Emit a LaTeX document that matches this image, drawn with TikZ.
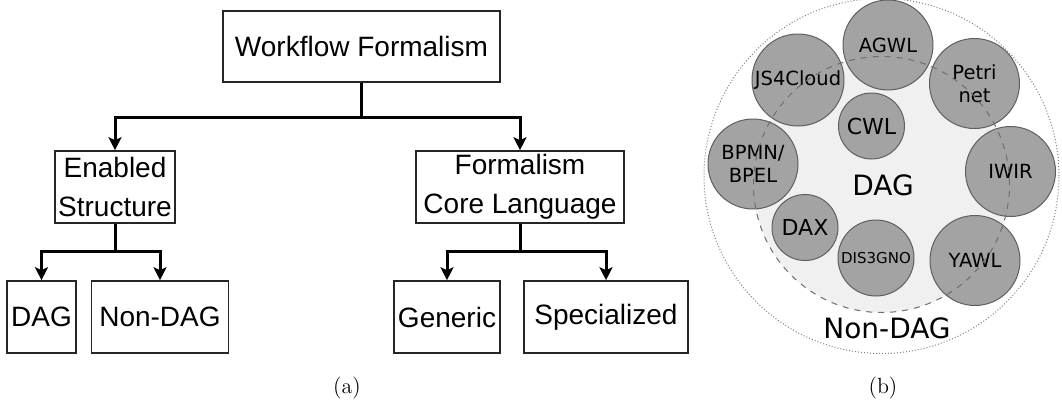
\documentclass[tikz,border=0pt]{standalone}
\usepackage{fontspec}
\usepackage{tikz}
\usetikzlibrary{arrows.meta}
\newfontfamily\boxfont{Liberation Sans}
\newfontfamily\dagfont{DejaVu Sans}
\definecolor{langfill}{HTML}{A3A3A3}
\definecolor{langline}{HTML}{5F5F5F}
\definecolor{dagfill}{HTML}{F0F0F0}
\definecolor{dagline}{HTML}{6E6E6E}

\begin{document}
\begin{tikzpicture}[x=0.5pt, y=-0.5pt,
        box/.style={draw=black!85, line width=0.8pt, inner sep=1pt, minimum height=36pt,
            align=center, font=\boxfont\fontsize{14pt}{19.5pt}\selectfont},
        link/.style={line width=1.5pt, -{Stealth[length=6.5pt, width=6.5pt, inset=1.5pt]}},
        lang/.style={circle, draw=langline, fill=langfill, line width=0.5pt, inner sep=0pt,
            minimum size=45pt, align=center, font=\dagfont\fontsize{9.75pt}{11.5pt}\selectfont},
        langsmall/.style={lang, minimum size=33pt, font=\dagfont\fontsize{11pt}{13pt}\selectfont},
        setlabel/.style={font=\dagfont\fontsize{14pt}{16pt}\selectfont},
        caption/.style={font=\fontsize{11pt}{13pt}\selectfont}]
                \useasboundingbox (0,0) rectangle (1062,402);

                \node[box, minimum width=138.5pt, minimum height=35.5pt] (wf) at (361.5,46.5) {Workflow Formalism};
                \node[box, minimum width=60pt] (es) at (115,187) {Enabled\\Structure};
                \node[box, minimum width=104pt] (fcl) at (520,187) {Formalism\\Core Language};
                \node[box, minimum width=34.5pt] (dag) at (41.5,317) {DAG};
                \node[box, minimum width=68.5pt] (ndag) at (160,317) {Non-DAG};
                \node[box, minimum width=53pt] (gen) at (447,317) {Generic};
                \node[box, minimum width=82pt] (spec) at (606,317) {Specialized};

                \draw [link] (wf.south) -- ++(0,35) -| (es.north);
                \draw [link] (wf.south) -- ++(0,35) -| (fcl.north);
                \draw [link] (es.south) -- ++(0,28) -| (dag.north);
                \draw [link] (es.south) -- ++(0,28) -| (ndag.north);
                \draw [link] (fcl.south) -- ++(0,28) -| (gen.north);
                \draw [link] (fcl.south) -- ++(0,28) -| (spec.north);

                \node[caption] (capa) at (347,388) {(a)};

                \draw [densely dotted, gray, line width=0.5pt] (881.5,176) circle [radius=88.75pt];
                \fill [dagfill] (881.5,184.5) circle [radius=64pt];

                \node[lang] (agwl) at (888,45) {AGWL};
                \node[lang, minimum size=46pt] (js) at (798,80) {JS4Cloud};
                \node[lang] (petri) at (974.5,83.5) {Petri\\net};
                \node[langsmall] (cwl) at (871.5,126) {CWL};
                \node[lang] (bpmn) at (753,164) {BPMN/\\BPEL};
                \node[lang] (iwir) at (1010.5,171.5) {IWIR};
                \node[langsmall] (dax) at (805,227.5) {DAX};
                \node[lang, minimum size=38pt, font=\dagfont\fontsize{7.5pt}{9pt}\selectfont] (dis) at (876,258) {DIS3GNO};
                \node[lang] (yawl) at (975,260.5) {YAWL};

                \draw [dagline, dashed, line width=0.5pt] (881.5,184.5) circle [radius=64pt];

                \node[setlabel] (daglbl) at (883,185) {DAG};
                \node[setlabel] (ndaglbl) at (887,328) {Non-DAG};

                \node[caption] (capb) at (883,388) {(b)};
            \end{tikzpicture}
\end{document}
